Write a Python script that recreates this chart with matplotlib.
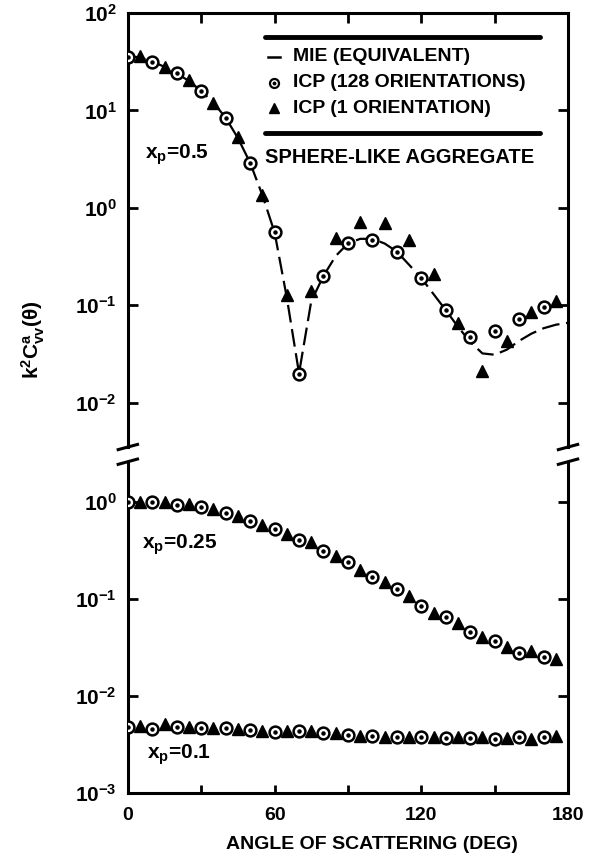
import numpy as np
import matplotlib
matplotlib.use("Agg")
import matplotlib.pyplot as plt

plt.rcParams['font.family'] = ['Liberation Sans', 'DejaVu Sans']
plt.rcParams['font.weight'] = 'bold'
plt.rcParams['mathtext.fontset'] = 'custom'
plt.rcParams['mathtext.rm'] = 'Liberation Sans:bold'
plt.rcParams['mathtext.bf'] = 'Liberation Sans:bold'
plt.rcParams['mathtext.it'] = 'Liberation Sans:bold:italic'

# angles: circles (128 orientations) every 10 deg, triangles (1 orientation) in between
ang_circ = [0, 10, 20, 30, 40, 50, 60, 70, 80, 90, 100, 110, 120, 130, 140, 150, 160, 170]
ang_tri = [5, 15, 25, 35, 45, 55, 65, 75, 85, 95, 105, 115, 125, 135, 145, 155, 165, 175]

# x_p = 0.5
circ_05 = [35.6, 31.6, 24, 15.8, 8.4, 2.9, 0.56, 0.0195, 0.20, 0.44, 0.47, 0.355,
           0.19, 0.089, 0.047, 0.054, 0.072, 0.096]
tri_05 = [36, 28, 20.5, 12, 5.3, 1.35, 0.126, 0.14, 0.49, 0.71, 0.69, 0.47,
          0.21, 0.066, 0.021, 0.043, 0.085, 0.11]
ang_mie = [0, 5, 10, 15, 20, 25, 30, 35, 40, 45, 50, 55, 60, 65, 70, 75, 80, 85, 90,
           95, 100, 105, 110, 115, 120, 125, 130, 135, 140, 145, 150, 155, 160, 165,
           170, 175, 180]
mie_05 = [36, 35, 31.6, 28, 24, 20, 15.8, 12, 8.4, 5.2, 2.9, 1.35, 0.56, 0.12, 0.02,
          0.11, 0.2, 0.32, 0.43, 0.48, 0.48, 0.43, 0.355, 0.26, 0.19, 0.13, 0.089,
          0.06, 0.042, 0.032, 0.031, 0.035, 0.043, 0.051, 0.058, 0.063, 0.066]

# x_p = 0.25
circ_025 = [1.0, 1.0, 0.93, 0.89, 0.77, 0.64, 0.53, 0.41, 0.31, 0.24, 0.17, 0.126,
            0.084, 0.065, 0.046, 0.037, 0.028, 0.025]
tri_025 = [1.0, 1.0, 0.95, 0.85, 0.72, 0.58, 0.47, 0.39, 0.28, 0.20, 0.149, 0.107,
           0.072, 0.057, 0.041, 0.032, 0.029, 0.024]

# x_p = 0.1
circ_01 = [0.0048, 0.0046, 0.0048, 0.0047, 0.0047, 0.0045, 0.0043, 0.0044, 0.0042,
           0.0040, 0.0039, 0.0038, 0.0038, 0.0037, 0.0037, 0.0036, 0.0038, 0.0038]
tri_01 = [0.0049, 0.0052, 0.0048, 0.0047, 0.0046, 0.0044, 0.0044, 0.0044, 0.0042,
          0.0039, 0.0038, 0.0038, 0.0038, 0.0038, 0.0038, 0.0037, 0.0036, 0.0039]

fig = plt.figure(figsize=(6.03, 8.63), dpi=100)
ax1 = fig.add_axes([0.212, 0.482, 0.730, 0.503])
ax2 = fig.add_axes([0.212, 0.081, 0.730, 0.384])

circ_kw = dict(ls='none', marker='o', ms=8.5, mfc='white', mec='black', mew=1.8, zorder=3)
dot_kw = dict(ls='none', marker='o', ms=2.2, color='black', zorder=4)
tri_kw = dict(ls='none', marker='^', ms=8.5, color='black', zorder=3)


def draw_set(ax, circ, tri):
    ax.plot(ang_circ, circ, **circ_kw)
    ax.plot(ang_circ, circ, **dot_kw)
    ax.plot(ang_tri, tri, **tri_kw)


ax1.plot(ang_mie, mie_05, color='black', lw=1.6, dashes=(8, 3), zorder=2)
draw_set(ax1, circ_05, tri_05)
draw_set(ax2, circ_025, tri_025)
draw_set(ax2, circ_01, tri_01)

for ax in (ax1, ax2):
    ax.set_yscale('log')
    ax.set_xlim(0, 180)
    ax.set_xticks([0, 30, 60, 90, 120, 150, 180])
    ax.minorticks_off()
    ax.tick_params(axis='both', direction='in', width=2, length=7,
                   right=True, labelsize=15, pad=8)
    for s in ax.spines.values():
        s.set_linewidth(2.2)

ax1.set_ylim(3.5e-3, 100)
ax1.set_yticks([1e-2, 1e-1, 1, 10, 100])
ax1.set_yticklabels([r'$10^{-2}$', r'$10^{-1}$', r'$10^{0}$', r'$10^{1}$', r'$10^{2}$'])
ax1.spines['bottom'].set_visible(False)
ax1.tick_params(axis='x', top=True, bottom=False, labelbottom=False)

ax2.set_ylim(1e-3, 2.6)
ax2.set_yticks([1e-3, 1e-2, 1e-1, 1])
ax2.set_yticklabels([r'$10^{-3}$', r'$10^{-2}$', r'$10^{-1}$', r'$10^{0}$'])
ax2.spines['top'].set_visible(False)
ax2.set_xticklabels(['0', '', '60', '', '120', '', '180'])
ax2.tick_params(axis='x', top=False, length=6, labelsize=14, pad=10)

# break marks
for ax, y, dy in ((ax1, 0.0, 0.006), (ax2, 1.0, 0.008)):
    for x in (0.0, 1.0):
        ax.plot([x - 0.022, x + 0.022], [y - dy, y + dy], transform=ax.transAxes,
                color='black', lw=2.2, clip_on=False)

# legend block
tr = ax1.transAxes
ax1.plot([0.311, 0.936], [0.945, 0.945], transform=tr, color='black', lw=3.5,
         solid_capstyle='round')
ax1.plot([0.311, 0.936], [0.724, 0.724], transform=tr, color='black', lw=3.5,
         solid_capstyle='round')
ax1.plot([0.318, 0.345], [0.899, 0.899], transform=tr, color='black', lw=1.8)
ax1.plot([0.332], [0.839], transform=tr, ls='none', marker='o', ms=6.5, mfc='white',
         mec='black', mew=1.6)
ax1.plot([0.332], [0.839], transform=tr, ls='none', marker='o', ms=1.8, color='black')
ax1.plot([0.332], [0.781], transform=tr, ls='none', marker='^', ms=6.5, color='black')
leg_txt = ['MIE (EQUIVALENT)', 'ICP (128 ORIENTATIONS)', 'ICP (1 ORIENTATION)']
for t, yy in zip(leg_txt, [0.899, 0.839, 0.781]):
    ax1.text(0.375, yy, t, transform=tr, fontsize=14, fontweight='bold', va='center')
ax1.text(0.311, 0.666, 'SPHERE-LIKE AGGREGATE', transform=tr, fontsize=14.5,
         fontweight='bold', va='center')

ax1.text(0.038, 0.673, r'$\mathregular{x_p}$=0.5', transform=tr, fontsize=15,
         fontweight='bold', va='center')
ax2.text(0.033, 0.749, r'$\mathregular{x_p}$=0.25', transform=ax2.transAxes,
         fontsize=15, fontweight='bold', va='center')
ax2.text(0.043, 0.115, r'$\mathregular{x_p}$=0.1', transform=ax2.transAxes,
         fontsize=15, fontweight='bold', va='center')

fig.text(0.055, 0.606, r'$\mathregular{k^2C^{a}_{vv}(\theta)}$', rotation=90,
         fontsize=15, fontweight='bold', ha='center', va='center')
fig.text(0.616, 0.021, 'ANGLE OF SCATTERING (DEG)', fontsize=14, fontweight='bold',
         ha='center', va='center')

fig.savefig('out.png', dpi=100)
